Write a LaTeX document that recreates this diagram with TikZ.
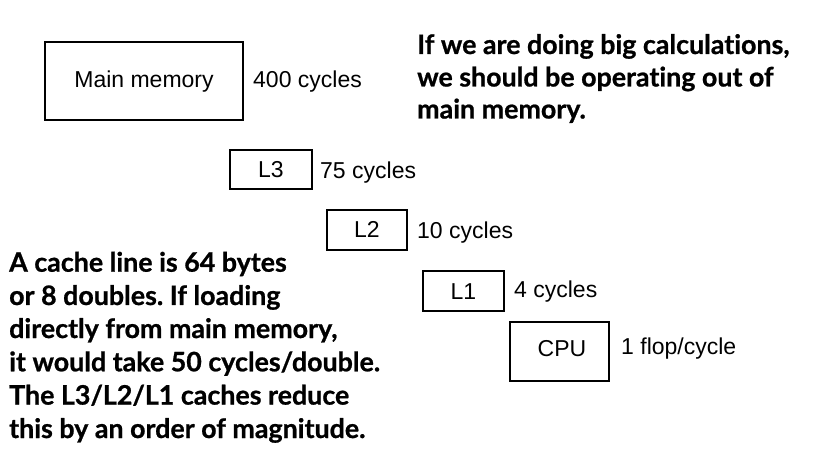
\documentclass[tikz,border=0pt]{standalone}
\usepackage{fontspec}
\setmainfont{Liberation Sans}
\newfontfamily\notefont[RawFeature={-liga;-dlig},BoldFeatures={FakeBold=0.8}]{Lato}
\frenchspacing
\begin{document}
\begin{tikzpicture}[x=1pt,y=-1pt,
  box/.style={draw,line width=1.6pt,inner sep=0pt},
  lbl/.style={font=\fontsize{23}{26}\selectfont,inner sep=0pt,anchor=base west},
  btxt/.style={font=\fontsize{23}{26}\selectfont,inner sep=0pt,anchor=base},
  note/.style={font=\notefont\bfseries\fontsize{26.8}{33}\selectfont,inner sep=0pt,anchor=base west}]
\useasboundingbox (0,0) rectangle (820,465);
% boxes
\draw[box] (45,42) rectangle (243,120);
\draw[box] (230,150) rectangle (312,189);
\draw[box] (327,210) rectangle (407,250);
\draw[box] (423,271) rectangle (504,311);
\draw[box] (510,322) rectangle (609,381);
% box texts
\node[btxt] (mm) at (144,87.5) {Main memory};
\node[btxt] (l3) at (271,177.5) {L3};
\node[btxt] (l2) at (367,238) {L2};
\node[btxt] (l1) at (463.5,300) {L1};
\node[btxt] (cpu) at (562,356) {CPU};
% latency labels
\node[lbl] (tmm) at (253,87.5) {400 cycles};
\node[lbl] (tl3) at (320,179) {75 cycles};
\node[lbl] (tl2) at (417,239) {10 cycles};
\node[lbl] (tl1) at (514,298) {4 cycles};
\node[lbl] (tcpu) at (621,355) {1 flop/cycle};
% right note
\node[note] (r1) at (417,54) {If we are doing big calculations,};
\node[note] (r2) at (417,86.5) {we should be operating out of};
\node[note] (r3) at (417,118.5) {main memory.};
% left note
\node[note] (a1) at (9,271.7) {A cache line is 64 bytes};
\node[note] (a2) at (9,305) {or 8 doubles. If loading};
\node[note] (a3) at (9,338) {directly from main memory,};
\node[note] (a4) at (9,371.3) {it would take 50 cycles/double.};
\node[note] (a5) at (9,404.6) {The L3/L2/L1 caches reduce};
\node[note] (a6) at (9,438) {this by an order of magnitude.};
\end{tikzpicture}
\end{document}
